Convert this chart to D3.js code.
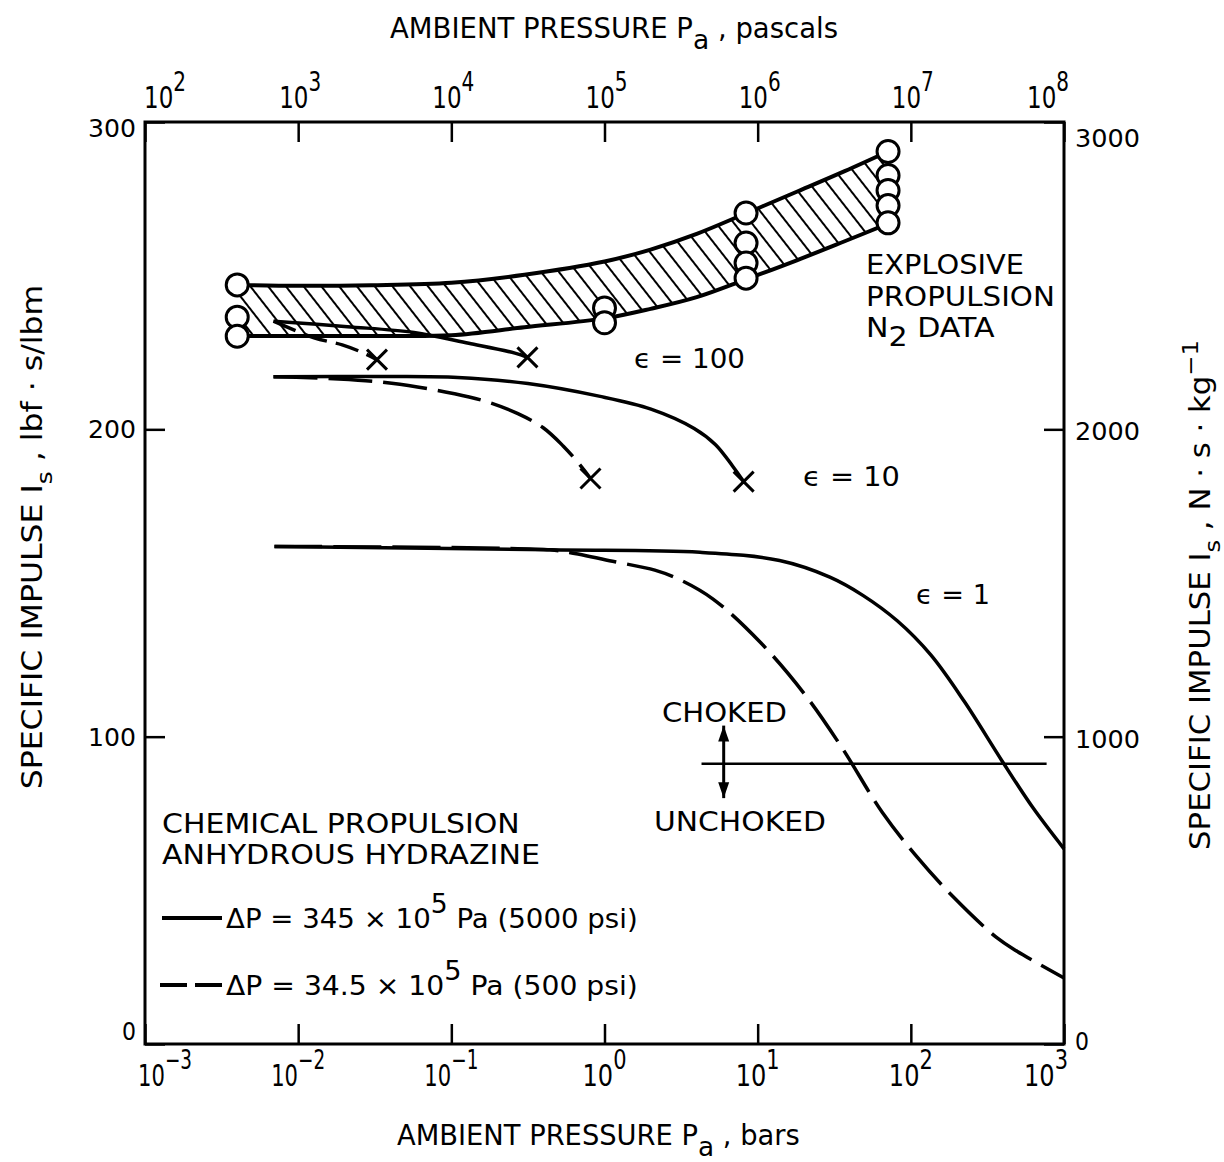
<!DOCTYPE html>
<html><head><meta charset="utf-8">
<script src="https://cdn.jsdelivr.net/npm/d3@7"></script>
<style>body{margin:0;background:#fff} svg{display:block}</style>
</head><body>
<svg id="chart" width="1224" height="1162"></svg>
<script>
// ---------- data ----------
const bottomTicks = [1e-3, 1e-2, 1e-1, 1, 10, 100, 1000];
const bottomTickExp = ["-3", "-2", "-1", "0", "1", "2", "3"];
const topTicks = [1e2, 1e3, 1e4, 1e5, 1e6, 1e7, 1e8];
const topTickExp = ["2", "3", "4", "5", "6", "7", "8"];
const leftTicks = [0, 100, 200, 300];
const rightTicks = [0, 1000, 2000, 3000];

// explosive propulsion N2 data band (pressure in bars, Is in lbf s/lbm)
const bandP     = [0.004, 0.01, 0.03, 0.1, 0.3, 1, 2, 4, 8.5, 18, 37, 71];
const bandUpper = [247, 246.7, 246.9, 247.7, 250.3, 254.6, 258.5, 263.6, 270.4, 277.3, 284.0, 290.4];
const bandLower = [230.4, 230.4, 230.4, 230.6, 233.2, 236.1, 239.2, 243.0, 248.9, 255.0, 261.2, 266.9];

const circleP = [0.004, 0.004, 0.004, 1, 1, 8.4, 8.4, 8.4, 8.4, 71, 71, 71, 71, 71];
const circleI = [247, 236.5, 230.3, 239.5, 234.7, 270.4, 260.6, 254.1, 249.2, 290.4, 282.6, 277.7, 272.8, 267.2];

// chemical propulsion curves
const eps100SolidP = [0.0069, 0.021, 0.057, 0.13, 0.26, 0.314];
const eps100SolidI = [235.2, 233.4, 231.5, 228.0, 224.8, 223.4];
const eps100DashP  = [0.0069, 0.0127, 0.0194, 0.0254, 0.0327];
const eps100DashI  = [235.2, 229.8, 227.5, 225.3, 222.7];

const eps10SolidP = [0.0069, 0.0385, 0.11, 0.316, 0.92, 2.01, 3.85, 5.31, 6.87, 8.1];
const eps10SolidI = [217.1, 217.2, 216.9, 214.9, 210.8, 206.6, 200.3, 195.0, 188.0, 183.0];
const eps10DashP  = [0.0069, 0.0184, 0.0408, 0.105, 0.173, 0.272, 0.396, 0.537, 0.676, 0.81];
const eps10DashI  = [217.1, 216.4, 215.0, 211.6, 208.9, 205.1, 200.6, 194.6, 189.0, 184.0];

const eps1SolidP = [0.007, 0.44, 4.2, 13.9, 29.6, 48.9, 81.5, 135, 223, 394, 624, 1000];
const eps1SolidI = [161.9, 160.8, 160.0, 157.3, 151.9, 145.9, 137.7, 126.6, 111.5, 92.1, 77.0, 63.5];
const eps1DashP  = [0.007, 0.44, 0.59, 1.17, 2.13, 3.10, 5.14, 10.4, 20.2, 35.3, 65.2, 108, 189, 366, 493, 1000];
const eps1DashI  = [161.9, 160.8, 159.9, 156.9, 154.2, 151.1, 144.7, 130.7, 113.9, 96.6, 75.3, 61.3, 47.9, 34.5, 30.2, 21.5];

const crossP = [0.0327, 0.314, 0.81, 8.1];
const crossI = [222.7, 223.4, 184.0, 183.0];

const chokeP = [4.3, 770];
const chokeI = [91.2, 91.2];
const arrowP = [6.0, 6.0];
const arrowI = [103.6, 80];

// ---------- setup ----------
const svg = d3.select('#chart');
const L = 145, R = 1064, T = 122, B = 1044;
const x = d3.scaleLog().domain([1e-3, 1e3]).range([L, R]);
const xTop = d3.scaleLog().domain([1e2, 1e8]).range([L, R]);
const y = d3.scaleLinear().domain([0, 300]).range([B, T]);
const yR = d3.scaleLinear().domain([0, 3000]).range([B, T]);
const FONT = "'DejaVu Sans', sans-serif";
const NUMFONT = "'DejaVu Sans', sans-serif";

function label(parent, px, py, parts, o = {}) {
  const size = o.size || 27, rot = o.rotate || 0;
  const g = parent.append('g').attr('transform', `translate(${px},${py}) rotate(${rot})`);
  const t = g.append('text').attr('x', 0).attr('y', 0)
    .attr('font-family', o.family || FONT).attr('font-size', size)
    .attr('text-anchor', o.anchor || 'start').attr('fill', '#000');
  let off = 0;
  parts.forEach(p => {
    const s = typeof p === 'string' ? { t: p } : p;
    let target = 0, fs = size;
    if (s.sub) { target = s.dy ?? size * 0.3; fs = s.size || size * 0.8; }
    if (s.sup) { target = -(s.dy ?? size * 0.45); fs = s.size || size * 0.8; }
    t.append('tspan').attr('dy', target - off).attr('font-size', fs).text(s.t);
    off = target;
  });
  if (o.width) {
    const w = t.node().getBBox().width;
    if (w > 0) t.attr('transform', `scale(${o.width / w},1)`);
  }
  return g;
}

const defs = svg.append('defs');
const pat = defs.append('pattern').attr('id', 'hatch').attr('patternUnits', 'userSpaceOnUse')
  .attr('width', 14).attr('height', 14).attr('patternTransform', 'rotate(-38)');
pat.append('line').attr('x1', 7).attr('y1', 0).attr('x2', 7).attr('y2', 14)
  .attr('stroke', '#000').attr('stroke-width', 2);
const mk = defs.append('marker').attr('id', 'ahead').attr('markerUnits', 'userSpaceOnUse')
  .attr('viewBox', '0 -6 16 12').attr('refX', 16).attr('refY', 0)
  .attr('markerWidth', 16).attr('markerHeight', 12).attr('orient', 'auto-start-reverse');
mk.append('path').attr('d', 'M0,-5.5L16,0L0,5.5Z').attr('fill', '#000');

// ---------- axes ----------
function styleAxis(g) {
  g.select('.domain').remove();
  g.selectAll('line').attr('stroke', '#000').attr('stroke-width', 2.5);
}
svg.append('g').attr('transform', `translate(0,${B})`)
  .call(d3.axisBottom(x).tickValues(bottomTicks).tickSize(-20).tickSizeOuter(0).tickFormat(''))
  .call(styleAxis);
svg.append('g').attr('transform', `translate(0,${T})`)
  .call(d3.axisTop(xTop).tickValues(topTicks).tickSize(-20).tickSizeOuter(0).tickFormat(''))
  .call(styleAxis);
svg.append('g').attr('transform', `translate(${L},0)`)
  .call(d3.axisLeft(y).tickValues(leftTicks).tickSize(-20).tickSizeOuter(0).tickFormat(''))
  .call(styleAxis);
svg.append('g').attr('transform', `translate(${R},0)`)
  .call(d3.axisRight(yR).tickValues(rightTicks).tickSize(-20).tickSizeOuter(0).tickFormat(''))
  .call(styleAxis);

svg.append('rect').attr('x', L).attr('y', T).attr('width', R - L).attr('height', B - T)
  .attr('fill', 'none').attr('stroke', '#000').attr('stroke-width', 3);

// tick labels
const tl = svg.append('g');
topTicks.forEach((v, i) => {
  const adj = i === 0 ? 20 : (i === topTicks.length - 1 ? -16 : 2);
  label(tl, xTop(v) + adj, 108, ['10', { t: topTickExp[i], sup: true, dy: 17, size: 27 }],
    { size: 31, anchor: 'middle', width: 42 });
});
bottomTicks.forEach((v, i) => {
  const adj = i === 0 ? 20 : (i === bottomTicks.length - 1 ? -18 : 0);
  const neg = bottomTickExp[i].startsWith('-');
  label(tl, x(v) + adj, 1086, ['10', { t: bottomTickExp[i].replace('-', '\u2212'), sup: true, dy: 17, size: 27 }],
    { size: 31, anchor: 'middle', width: neg ? 54 : 44 });
});
leftTicks.forEach(v => {
  const adj = v === 300 ? 6 : (v === 0 ? -13 : 0);
  label(tl, 136, y(v) + adj + 9, [String(v)], { size: 25, anchor: 'end', family: NUMFONT, width: v === 0 ? 14 : 48 });
});
rightTicks.forEach(v => {
  const adj = v === 3000 ? 16 : (v === 0 ? -3 : 2);
  label(tl, 1075, yR(v) + adj + 9, [String(v)], { size: 25, anchor: 'start', family: NUMFONT, width: v === 0 ? 14 : 65 });
});

// axis titles
label(svg, 390, 38, ['AMBIENT PRESSURE P', { t: 'a', sub: true, dy: 11, size: 27 }, ' , pascals'],
  { size: 28, width: 448 });
label(svg, 397, 1145, ['AMBIENT PRESSURE P', { t: 'a', sub: true, dy: 11, size: 27 }, ' , bars'],
  { size: 28, width: 403 });
label(svg, 42, 537, ['SPECIFIC IMPULSE I', { t: 's', sub: true, dy: 10, size: 22 }, ' , lbf \u00B7 s/lbm'],
  { size: 28, anchor: 'middle', rotate: -90, width: 505 });
label(svg, 1210, 595, ['SPECIFIC IMPULSE I', { t: 's', sub: true, dy: 10, size: 22 }, ' , N \u00B7 s \u00B7 kg',
  { t: '\u22121', sup: true, dy: 12, size: 22 }],
  { size: 28, anchor: 'middle', rotate: -90, width: 510 });

// ---------- band ----------
const curve = d3.curveCatmullRom.alpha(0.5);
const band = bandP.map((p, i) => ({ p, hi: bandUpper[i], lo: bandLower[i] }));
const plot = svg.append('g');
plot.append('path').datum(band)
  .attr('d', d3.area().x(d => x(d.p)).y0(d => y(d.lo)).y1(d => y(d.hi)).curve(curve))
  .attr('fill', 'url(#hatch)');
const bandLine = key => d3.line().x(d => x(d.p)).y(d => y(d[key])).curve(curve);
plot.append('path').datum(band).attr('d', bandLine('hi')).attr('fill', 'none').attr('stroke', '#000').attr('stroke-width', 4);
plot.append('path').datum(band).attr('d', bandLine('lo')).attr('fill', 'none').attr('stroke', '#000').attr('stroke-width', 4);

// ---------- curves ----------
const line = d3.line().x(d => x(d[0])).y(d => y(d[1])).curve(curve);
const zip = (a, b) => a.map((v, i) => [v, b[i]]);
const curves = [
  { p: eps100SolidP, i: eps100SolidI, dash: null },
  { p: eps100DashP, i: eps100DashI, dash: '24,9' },
  { p: eps10SolidP, i: eps10SolidI, dash: null },
  { p: eps10DashP, i: eps10DashI, dash: '44,11' },
  { p: eps1SolidP, i: eps1SolidI, dash: null },
  { p: eps1DashP, i: eps1DashI, dash: '48,11' }
];
curves.forEach(c => {
  plot.append('path').datum(zip(c.p, c.i)).attr('d', line)
    .attr('fill', 'none').attr('stroke', '#000').attr('stroke-width', 3.5)
    .attr('stroke-dasharray', c.dash);
});

// choked / unchoked line and arrow
plot.append('path').datum(zip(chokeP, chokeI)).attr('d', d3.line().x(d => x(d[0])).y(d => y(d[1])))
  .attr('stroke', '#000').attr('stroke-width', 2.5).attr('fill', 'none');
plot.append('path').datum(zip(arrowP, arrowI)).attr('d', d3.line().x(d => x(d[0])).y(d => y(d[1])))
  .attr('stroke', '#000').attr('stroke-width', 3).attr('fill', 'none')
  .attr('marker-start', 'url(#ahead)').attr('marker-end', 'url(#ahead)');

// circles
plot.selectAll('circle.pt').data(zip(circleP, circleI)).join('circle').attr('class', 'pt')
  .attr('cx', d => x(d[0])).attr('cy', d => y(d[1])).attr('r', 11)
  .attr('fill', '#fff').attr('stroke', '#000').attr('stroke-width', 3);

// crosses
plot.selectAll('path.cross').data(zip(crossP, crossI)).join('path').attr('class', 'cross')
  .attr('transform', d => `translate(${x(d[0])},${y(d[1])})`)
  .attr('d', 'M-10,-10L10,10M-10,10L10,-10')
  .attr('stroke', '#000').attr('stroke-width', 3).attr('fill', 'none');

// ---------- annotations ----------
const ann = svg.append('g');
label(ann, 866, 274, ['EXPLOSIVE'], { size: 26, width: 158 });
label(ann, 866, 306, ['PROPULSION'], { size: 26, width: 189 });
label(ann, 866, 337, ['N', { t: '2', sub: true, dy: 9, size: 26 }, ' DATA'], { size: 26, width: 129 });
label(ann, 634, 368, ['\u03F5 = 100'], { size: 27, width: 111 });
label(ann, 803, 486, ['\u03F5 = 10'], { size: 27, width: 97 });
label(ann, 916, 604, ['\u03F5 = 1'], { size: 27, width: 74 });
label(ann, 662, 722, ['CHOKED'], { size: 27, width: 125 });
label(ann, 654, 831, ['UNCHOKED'], { size: 27, width: 172 });
label(ann, 162, 833, ['CHEMICAL PROPULSION'], { size: 27, width: 358 });
label(ann, 162, 864, ['ANHYDROUS HYDRAZINE'], { size: 27, width: 378 });

// legend
ann.append('line').attr('x1', 162).attr('x2', 222).attr('y1', 918).attr('y2', 918)
  .attr('stroke', '#000').attr('stroke-width', 4);
ann.append('line').attr('x1', 160).attr('x2', 222).attr('y1', 985).attr('y2', 985)
  .attr('stroke', '#000').attr('stroke-width', 4).attr('stroke-dasharray', '27,8');
label(ann, 226, 928, ['\u0394P = 345 \u00D7 10', { t: '5', sup: true, dy: 15, size: 26 }, ' Pa (5000 psi)'],
  { size: 27, width: 412 });
label(ann, 226, 995, ['\u0394P = 34.5 \u00D7 10', { t: '5', sup: true, dy: 15, size: 26 }, ' Pa (500 psi)'],
  { size: 27, width: 412 });
</script>
</body></html>
